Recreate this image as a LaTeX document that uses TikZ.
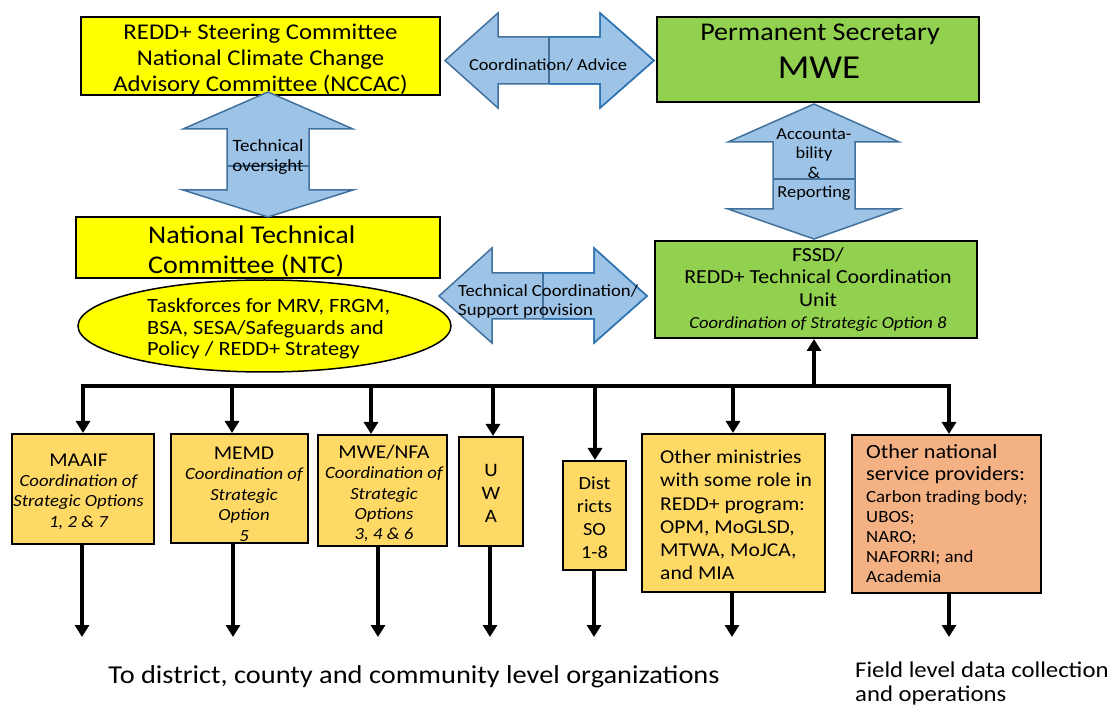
\documentclass[tikz,border=0pt]{standalone}
\usepackage{fontspec}
\setmainfont{Carlito}[FakeStretch=1.1]
\usetikzlibrary{shapes.geometric,arrows.meta}
\definecolor{ybox}{HTML}{FFFF00}
\definecolor{gbox}{HTML}{92D050}
\definecolor{obox}{HTML}{FFD966}
\definecolor{sbox}{HTML}{F4B183}
\definecolor{afill}{HTML}{9DC3E6}
\definecolor{aline}{HTML}{41719C}
\definecolor{aline2}{HTML}{2E75B6}
\newcommand\fsz[2]{\fontsize{#1}{#2}\selectfont}
\begin{document}
\begin{tikzpicture}[x=1pt,y=-1pt,
  boxshape/.style={draw=black, line width=2pt, inner sep=0pt, rectangle},
  txt/.style={inner sep=0pt, align=center, text=black},
  txtl/.style={inner sep=0pt, align=left, anchor=west, text=black},
  conn/.style={line width=4pt, draw=black, line join=miter, -{Triangle[width=14pt,length=12pt]}},
  barrow/.style={fill=afill, draw=aline, line width=1.5pt, line join=miter},
  barrowr/.style={draw=aline2, line width=1.5pt, line join=miter},
  bdiv/.style={draw=aline, line width=1.5pt}
]
\useasboundingbox (0,0) rectangle (1114,708);

% ---------- top boxes ----------
\node[boxshape, fill=ybox, minimum width=359pt, minimum height=78pt] (b1) at (260.5,56) {};
\node[txt, font=\fsz{22.5}{26}] (b1t) at (260.5,59.5) {REDD+ Steering Committee\\National Climate Change\\Advisory Committee (NCCAC)};

\node[boxshape, fill=gbox, minimum width=322pt, minimum height=85pt] (ps) at (818,59.5) {};
\node[txt, font=\fsz{25.5}{25.5}] (pst1) at (820,34) {Permanent Secretary};
\node[txt, font=\fsz{33.5}{33.5}] (pst2) at (819,68) {MWE};

\node[boxshape, fill=ybox, minimum width=364pt, minimum height=61pt] (ntc) at (258,247.5) {};
\node[txtl, font=\fsz{25.5}{30}] (ntct) at (148,251) {National Technical\\Committee (NTC)};

\node[ellipse, draw=black, line width=1.5pt, fill=ybox, minimum width=373pt, minimum height=92pt, inner sep=0pt] (tf) at (264.5,326) {};
\node[txtl, font=\fsz{20.3}{21.5}] (tft) at (147,329) {Taskforces for MRV, FRGM,\\BSA, SESA/Safeguards and\\Policy / REDD+ Strategy};

\node[boxshape, fill=gbox, minimum width=322pt, minimum height=97pt] (fssd) at (816,289.5) {};
\node[txt, font=\fsz{19.9}{22.5}] (fssdt) at (818,289.5) {FSSD/\\REDD+ Technical Coordination\\Unit\\\fsz{16.9}{16.9}\itshape Coordination of Strategic Option 8};

% ---------- block arrows ----------
% Coordination / Advice
\draw[barrow] (445,60.5) -- (498,13) -- (498,37) -- (600,37) -- (600,13) -- (654,60.5) -- (600,108) -- (600,84) -- (498,84) -- (498,108) -- cycle;
\draw[barrowr] (549,37) -- (600,37) -- (600,13) -- (654,60.5) -- (600,108) -- (600,84) -- (549,84);
\draw[bdiv] (549,37) -- (549,84);
\node[txt, font=\fsz{16.7}{19}] (cat) at (548,65) {Coordination/ Advice};

% Technical oversight
\draw[barrow] (268,92) -- (353,129) -- (309,129) -- (309,190) -- (353,190) -- (268,217) -- (183,190) -- (227,190) -- (227,129) -- (183,129) -- cycle;
\draw[bdiv] (227,166) -- (309,166);
\node[txt, font=\fsz{17.3}{20}] (tot) at (268,157) {Technical\\oversight};

% Technical coordination
\draw[barrow] (439,296) -- (492,248) -- (492,273) -- (594,273) -- (594,248) -- (647,296) -- (594,343) -- (594,319) -- (492,319) -- (492,343) -- cycle;
\draw[barrowr] (543,273) -- (594,273) -- (594,248) -- (647,296) -- (594,343) -- (594,319) -- (543,319);
\draw[bdiv] (543,273) -- (543,319);
\node[txtl, font=\fsz{17}{19}] (tct) at (458,301.5) {Technical Coordination/\\Support provision};

% Accountability & Reporting
\draw[barrow] (814,104) -- (899,142) -- (855,142) -- (855,209) -- (899,209) -- (814,239) -- (728,209) -- (773,209) -- (773,142) -- (728,142) -- cycle;
\draw[bdiv] (773,179) -- (855,179);
\node[txt, font=\fsz{16.7}{19.5}] (art) at (814,164.5) {Accounta-\\bility\\\&\\Reporting};

% ---------- lower boxes ----------
\node[boxshape, fill=obox, minimum width=142pt, minimum height=110pt] (maaif) at (83,489) {};
\node[txt, font=\fsz{17}{20.3}] (maaift) at (78.5,491.5) {\fsz{19.5}{19.5}MAAIF\\\itshape Coordination of\\\itshape Strategic Options\\\itshape 1, 2 \& 7};

\node[boxshape, fill=obox, minimum width=137pt, minimum height=109pt] (memd) at (239.5,488.5) {};
\node[txt, font=\fsz{17}{20.5}] (memdt) at (244,494) {\fsz{19.5}{19.5}MEMD\\\itshape Coordination of\\\itshape Strategic\\\itshape Option\\\itshape 5};

\node[boxshape, fill=obox, minimum width=129pt, minimum height=111pt] (nfa) at (382.5,490.5) {};
\node[txt, font=\fsz{17}{20.3}] (nfat) at (384,493.5) {\fsz{19.5}{19.5}MWE/NFA\\\itshape Coordination of\\\itshape Strategic\\\itshape Options\\\itshape 3, 4 \& 6};

\node[boxshape, fill=obox, minimum width=64pt, minimum height=109pt] (uwa) at (491,491.5) {};
\node[txt, font=\fsz{19}{23}] (uwat) at (491,493) {U\\W\\A};

\node[boxshape, fill=obox, minimum width=63pt, minimum height=109pt] (dist) at (594.5,515.5) {};
\node[txt, font=\fsz{18.5}{23}] (distt) at (594.5,517.5) {Dist\\ricts\\SO\\1-8};

\node[boxshape, fill=obox, minimum width=183pt, minimum height=158pt] (om) at (733.5,513) {};
\node[txtl, font=\fsz{19.6}{23.2}] (omt) at (660,515) {Other ministries\\with some role in\\REDD+ program:\\OPM, MoGLSD,\\MTWA, MoJCA,\\and MIA};

\node[boxshape, fill=sbox, minimum width=189pt, minimum height=158pt] (on) at (946.5,514) {};
\node[txtl, font=\fsz{20.2}{22}] (ont1) at (866,464) {Other national\\service providers:};
\node[txtl, font=\fsz{17.1}{20}] (ont2) at (866,537) {Carbon trading body;\\UBOS;\\NARO;\\NAFORRI; and\\Academia};

% ---------- connectors ----------
\coordinate (busL) at (83,386);
\coordinate (busR) at (949,386);
\coordinate (low) at (0,637);
\coordinate (onIn) at (busR |- on.north);
\draw[line width=4pt, line join=miter, {Triangle[width=14pt,length=12pt]}-{Triangle[width=14pt,length=12pt]}] (maaif.north) -- (busL) -- (busR) -- (onIn);

\coordinate (memdIn) at ([xshift=-7.5pt]memd.north);
\coordinate (nfaIn) at ([xshift=-11.5pt]nfa.north);
\coordinate (uwaIn) at ([xshift=2pt]uwa.north);
\coordinate (distIn) at ([xshift=0.5pt]dist.north);
\coordinate (omIn) at ([xshift=-0.5pt]om.north);
\coordinate (fssdIn) at ([xshift=-2pt]fssd.south);
\draw[conn] (memdIn |- busL) -- (memdIn);
\draw[conn] (nfaIn |- busL) -- (nfaIn);
\draw[conn] (uwaIn |- busL) -- (uwaIn);
\draw[conn] (distIn |- busL) -- (distIn);
\draw[conn] (omIn |- busL) -- (omIn);
\draw[conn] (fssdIn |- busL) -- (fssdIn);

\coordinate (maaifOut) at ([xshift=-1pt]maaif.south);
\coordinate (memdOut) at ([xshift=-6.5pt]memd.south);
\coordinate (nfaOut) at ([xshift=-4.5pt]nfa.south);
\coordinate (uwaOut) at ([xshift=-1pt]uwa.south);
\coordinate (distOut) at ([xshift=-0.5pt]dist.south);
\coordinate (omOut) at ([xshift=-1.5pt]om.south);
\coordinate (onOut) at ([xshift=2.5pt]on.south);
\foreach \p in {maaifOut,memdOut,nfaOut,uwaOut,distOut,omOut,onOut}
  \draw[conn] (\p) -- (\p |- low);

% ---------- bottom labels ----------
\node[txt, font=\fsz{25.8}{28}] (lowt) at (414,677) {To district, county and community level organizations};
\node[txtl, font=\fsz{22.5}{24}] (fieldt) at (855,683.5) {Field level data collection\\and operations};
\end{tikzpicture}
\end{document}
